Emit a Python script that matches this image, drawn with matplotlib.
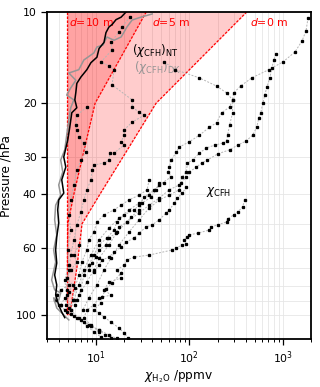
import matplotlib
matplotlib.use("Agg")
import matplotlib.pyplot as plt
from matplotlib.ticker import FixedLocator, LogLocator, NullFormatter, FuncFormatter

# ---- saturation / descent envelope lines ----
pres_d = [10, 20, 30, 40, 50, 70, 100]
d10_m = [4.87, 4.87, 4.87, 4.87, 4.87, 4.87, 4.87]
d5_m = [34.5, 9.8, 7.2, 5.8, 5.0, 4.95, 4.95]
d0_m = [410, 44, 19.6, 11.0, 7.1, 6.25, 5.25]

# ---- mean profiles ----
nt_p = [10.0, 10.4, 10.6, 11.0, 11.2, 11.7, 12.6, 13.2, 14.1, 14.7, 15.5, 16.4, 17.2, 18.4, 19.5, 20.7,
        21.5, 24.0, 26.4, 30.1, 32.5, 35.8, 39.6, 41.7, 45.0, 49.7, 55.3, 61.0, 67.4, 73.8, 79.6, 85.9,
        92.7, 97.8, 102]
nt_x = [21.0, 18.6, 16.4, 14.9, 13.8, 12.8, 12.2, 10.8, 10.25, 8.84, 8.0, 6.9, 6.25, 6.1, 5.95, 6.25,
        5.52, 5.25, 5.0, 4.53, 4.76, 4.31, 4.53, 4.0, 3.9, 4.0, 3.81, 3.71, 3.81, 3.62, 3.81, 3.71,
        4.0, 4.31, 4.64]
dk_p = [10.15, 10.39, 10.63, 11.2, 11.64, 12.09, 12.4, 12.09, 12.85, 13.05, 13.65, 14.4, 15.5, 15.9,
        16.8, 17.8, 18.8, 19.5, 20.7, 22.7, 25.5, 28.5, 30.8, 33.7, 37.2, 40.2, 43.4, 48.5, 54.4, 61,
        66.8, 76.6, 82.6, 84.5, 89.2, 87.8, 94.8, 100, 103.8]
dk_x = [40.0, 30.5, 24.4, 21.5, 20.0, 18.6, 15.6, 13.1, 11.9, 10.25, 9.5, 7.43, 6.56, 5.13,
        6.1, 5.38, 4.87, 5.8, 5.38, 5.13, 4.87, 4.64, 4.2, 4.42, 4.0, 4.2, 3.71, 3.62, 3.81, 3.53,
        3.71, 3.36, 3.62, 4.2, 4.0, 3.53, 3.81, 4.53, 5.13]

# ---- individual CFH profiles (pressure hPa, mixing ratio ppmv) ----
p1_p = [10.46, 11.55, 12.46, 13.55, 14.62, 15.5, 16.5, 17.55, 18.5, 19.5, 20.6, 21.5, 23.2, 24.0, 25.5,
        26.8, 27.9, 29.0, 30.8, 32.5, 33.7, 35.0, 37.2, 40.2, 42.7, 45.0, 47.9, 51.6, 56.5, 63.4, 71,
        79.6, 89.2, 96.2]
p1_x = [1858, 1766, 1600, 1346, 1000, 706, 464, 353, 297, 290, 269, 221, 195, 164, 128, 100, 78, 72.4,
        64, 61, 59.4, 64, 47.6, 37.1, 29, 22.6, 17.7, 13.8, 10.8, 8.84, 7.43, 6.56, 5.8, 5.38]
p2_p = [13.76, 14.4, 15.3, 16.5, 17.7, 18.8, 20.0, 21.5, 22.4, 24.0, 25.5, 26.7, 27.5, 28.5, 29.4,
        30.8, 31.5, 32.5, 33.7, 35.0, 37.2, 38.6, 41.1, 43.4, 46.0, 49.3, 53.2, 58.7, 64.9, 71, 77.8,
        85.9, 92.7]
p2_x = [841, 800, 762, 725, 673, 640, 609, 580, 552, 525, 475, 400, 328, 269, 200, 156, 135, 119, 100,
        92.9, 78, 61, 47.6, 37.1, 29, 21.5, 16.8, 13.8, 10.8, 9.5, 8.0, 6.56, 5.95]
p3_p = [14.62, 15.5, 16.5, 17.55, 18.5, 19.5, 21.5, 23.6, 25.5, 26.7, 27.1, 27.5, 28.1, 29.2, 30.8,
        31.5, 33.7, 35.0, 36.6, 38.6, 40.2, 41.7, 44.4, 48.5, 53.2, 58.7, 64.9, 71, 79.6, 87.8, 96.2]
p3_x = [53.8, 70.7, 128, 195, 250, 290, 290, 269, 256, 250, 226, 186, 152, 128, 108, 95, 92.9, 84, 82,
        78, 61, 47.6, 37.1, 29, 22.6, 17.7, 14.5, 12.2, 10.25, 8.4, 7.25]
q_p = [10.39, 11.2, 11.64, 12.56, 13.35, 14.62, 15.1, 15.5, 17.4, 19.5, 20.6, 21.4, 21.9, 23.1, 24.5,
       25.5, 26.8, 27.5, 29.2, 29.2, 30.8, 31.5, 32.0, 33.2, 35.8, 38.6, 41.7, 45.7, 50.4, 56.5, 63.4,
       71, 82.6, 92.7]
q_x = [23.2, 19.0, 17.7, 14.5, 14.9, 11.3, 13.8, 15.6, 14.9, 24.4, 24.4, 29, 32.8, 24.4, 20, 20, 18.6,
       20, 15.6, 14.1, 13.8, 12.2, 9.5, 9.06, 8.84, 8.0, 7.43, 6.9, 6.25, 5.8, 5.38, 5.13, 4.87, 4.76]
r_p = [20.6, 21.9, 23.6, 24.5, 25.8, 27.1, 29.0, 30.8, 33.2, 37.2, 41.7, 46.7, 52.4, 61, 68.4, 76.6,
       85.9, 96.2, 102.3, 107.9, 112, 116.4, 119.5]
r_x = [8.0, 6.25, 6.1, 6.25, 6.56, 7.43, 7.8, 6.9, 6.25, 5.8, 5.38, 5.13, 5.38, 5.0, 5.13, 4.64, 4.87,
       5.38, 6.56, 8.4, 10.8, 13.8, 16.8]
p4_p = [41.7, 44.0, 45.7, 46.7, 48.2, 49.3, 50.4, 51.2, 52.4, 53.6, 54.4, 55.3, 56.5, 58.3, 58.7, 60.1,
        61, 63.4, 64.4, 65.8, 72.7, 78.4, 82.0, 87.2, 91.3, 96.2, 98.5, 101.5, 105.5, 110.4, 114.7, 119.1]
p4_x = [390, 371, 328, 297, 256, 250, 200, 172, 164, 125, 100, 95, 88.3, 92.9, 84, 72.4, 65.6, 37.1,
        25.6, 21.5, 18.6, 14.9, 12.8, 11.6, 11.3, 9.5, 10.8, 12.2, 14.5, 17.7, 20, 22.1]
s1_p = [36.6, 38.6, 40.8, 43.4, 45, 46.7, 49.3, 52.4, 55.7, 58.7, 63.4, 68.4, 73.8, 82.6, 89.2]
s1_x = [53.8, 42, 32.8, 29, 25.6, 20, 16.8, 15.6, 13.1, 10.8, 9.5, 8.4, 7.43, 6.9, 6.25]
s2_p = [35.8, 38.6, 40.2, 41.7, 43.4, 45, 46.7, 49.3, 53.2, 56.5, 61, 66.8, 73.8, 81.5, 89.2, 94.8]
s2_x = [37.1, 35.3, 29, 22.6, 18.6, 15.6, 12.2, 10.25, 9.5, 8.4, 8.0, 7.07, 6.56, 5.95, 5.66, 5.13]
l_p = [79.6, 82.6, 85.9, 89.2, 92.7, 96.2, 99.2, 102.3, 105.5, 108.6, 112, 116.4, 119.5]
l_x = [5.13, 4.2, 3.81, 3.62, 4.0, 4.64, 5.38, 6.25, 7.43, 8.84, 10.8, 12.5, 14.5]
a_p = [36.6, 38.6, 40.8, 42.7, 45, 47.5, 49.3, 51.2, 53.6, 55.7, 58.7, 61, 64.4, 67.4, 71]
a_x = [47.6, 44.2, 39, 31.2, 29, 23.8, 21.5, 17.7, 16.4, 13.8, 12.8, 10.8, 10, 9.06, 8.4]
b_p = [37.8, 39.6, 41.1, 42.7, 45, 46, 48.5, 50.4, 51.2, 53.6, 55.7, 57.4, 59.7, 62, 64.4, 65.8, 68.4, 72.1]
b_x = [92.9, 84, 74.3, 69, 61, 56.6, 47.6, 40, 34.5, 29, 25.6, 21, 18.6, 15.6, 13.8, 11.6, 10.8, 9.5]
c_p = [68.4, 71, 75.5, 77.8, 82.6, 85.9, 87.8, 92.7, 96.2, 102.3, 107.9, 113.7]
c_x = [20, 16.8, 18.6, 13.8, 12.2, 14.5, 10.8, 9.5, 8.0, 7.43, 8.84, 10.8]
e_p = [58.7, 63.4, 66.8, 71, 75.5, 79.6, 83.9, 87.8, 92.7, 97.8, 100.8, 103.8, 108.6, 113.7, 118.2]
e_x = [6.56, 5.8, 6.25, 5.38, 4.87, 5.66, 5.13, 4.64, 4.2, 4.87, 5.8, 6.9, 8.0, 9.5, 11.3]

profiles = [(p1_x, p1_p), (p2_x, p2_p), (p3_x, p3_p), (q_x, q_p), (r_x, r_p),
            (p4_x, p4_p), (s1_x, s1_p), (s2_x, s2_p), (l_x, l_p), (a_x, a_p),
            (b_x, b_p), (c_x, c_p), (e_x, e_p)]

fig = plt.figure(figsize=(3.2, 3.87), dpi=100)
ax = fig.add_axes([0.147, 0.124, 0.825, 0.845])

# envelopes
ax.fill_betweenx(pres_d, d10_m, d0_m, color='red', alpha=0.2, lw=0, zorder=1)
ax.fill_betweenx(pres_d, d10_m, d5_m, color='red', alpha=0.2, lw=0, zorder=1)
for arr in (d10_m, d5_m, d0_m):
    ax.plot(arr, pres_d, color='red', ls='--', lw=0.9, dashes=(2, 1.2), zorder=2)

# individual profiles
for xs, ps in profiles:
    ax.plot(xs, ps, color='#b5b5b5', lw=0.7, ls=(0, (2, 1.5)), zorder=3)
    ax.plot(xs, ps, ls='none', marker='s', ms=1.4, color='black', mec='black', zorder=4)

# means
ax.plot(dk_x, dk_p, color='#959595', lw=1.1, zorder=5)
ax.plot(nt_x, nt_p, color='black', lw=1.1, zorder=6)

# annotations
ax.text(5.1, 10.8, '$d$=10 m', color='red', fontsize=7.8, va='center', ha='left')
ax.text(40, 10.8, '$d$=5 m', color='red', fontsize=7.8, va='center', ha='left')
ax.text(440, 10.8, '$d$=0 m', color='red', fontsize=7.8, va='center', ha='left')
ax.text(24.4, 13.4, r'$(\chi_\mathrm{CFH})_\mathrm{NT}$', color='black', fontsize=8.5, va='center', ha='left')
ax.text(25.6, 15.3, r'$(\chi_\mathrm{CFH})_\mathrm{DK}$', color='#959595', fontsize=8.5, va='center', ha='left')
ax.text(149, 39.3, r'$\chi_\mathrm{CFH}$', color='black', fontsize=8.5, va='center', ha='left')

ax.set_xscale('log')
ax.set_yscale('log')
ax.set_xlim(3, 2000)
ax.set_ylim(120, 10)

ax.yaxis.set_major_locator(FixedLocator([10, 20, 30, 40, 60, 100]))
ax.yaxis.set_major_formatter(FuncFormatter(lambda v, pos: f'{v:g}'))
ax.yaxis.set_minor_locator(LogLocator(base=10, subs=range(2, 10)))
ax.yaxis.set_minor_formatter(NullFormatter())
ax.xaxis.set_major_locator(LogLocator(base=10))
ax.xaxis.set_minor_locator(LogLocator(base=10, subs=range(2, 10)))
ax.xaxis.set_minor_formatter(NullFormatter())

ax.grid(True, which='both', color='#e6e6e6', lw=0.6, zorder=0)
ax.set_axisbelow(True)
ax.tick_params(which='major', labelsize=7.8, length=4, width=0.9, direction='out')
ax.tick_params(which='minor', length=2.5, width=0.7, direction='out')
ax.tick_params(axis='y', which='minor', length=0)
for s in ax.spines.values():
    s.set_linewidth(1.3)

ax.set_ylabel('Pressure /hPa', fontsize=8.7, labelpad=2)
ax.set_xlabel(r'$\chi_\mathrm{H_2O}$ /ppmv', fontsize=8.7, labelpad=2)

fig.savefig('out.png', dpi=100)
